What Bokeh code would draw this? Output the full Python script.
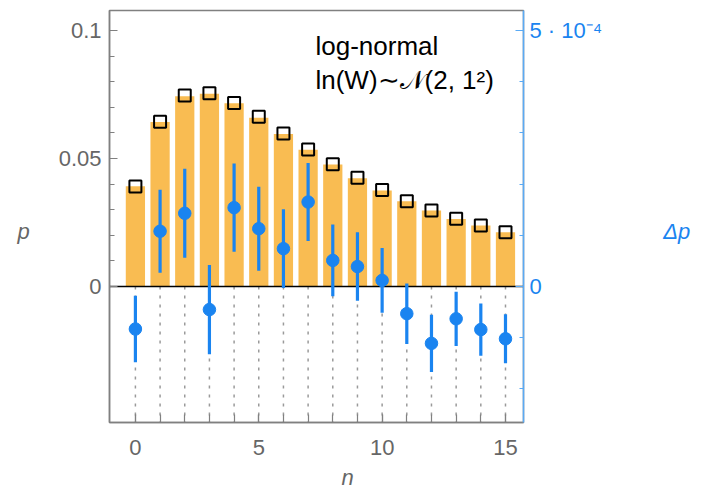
from bokeh.plotting import figure
from bokeh.models import (Range1d, LinearAxis, FixedTicker, CustomJSTickFormatter,
                          Label, Title, ColumnDataSource)
from bokeh.embed import file_html
from bokeh.resources import INLINE

# ---- data ----
n = list(range(16))
p_bar = [0.0392, 0.0643, 0.0743, 0.0753, 0.0716, 0.0659, 0.0596, 0.0534,
         0.0477, 0.0423, 0.0375, 0.0333, 0.0297, 0.0264, 0.0238, 0.0212]
p_theory = [0.0391, 0.0644, 0.0746, 0.0755, 0.0717, 0.0663, 0.0598, 0.0535,
            0.0478, 0.0425, 0.0377, 0.0333, 0.0297, 0.0265, 0.0238, 0.0212]
# delta p in units of 1e-4
dp = [-0.83, 1.08, 1.43, -0.45, 1.54, 1.13, 0.74, 1.65,
      0.51, 0.39, 0.12, -0.53, -1.11, -0.63, -0.84, -1.02]
dp_err = [0.65, 0.81, 0.87, 0.87, 0.86, 0.82, 0.77, 0.76,
          0.70, 0.67, 0.63, 0.59, 0.56, 0.53, 0.51, 0.48]

x_ticks = [0, 5, 10, 15]
p_ticks = [0, 0.05, 0.1]
p_minor = [0.01 * i for i in range(11)]
dp_ticks = [0, 5]
dp_minor = [-2, -1, 1, 2, 3, 4]
dp_labels = {0: "0", 5: "5 · 10⁻⁴"}

title1 = "log-normal"
title2 = "ln(W)∼𝒩(2, 1²)"
x_label = "n"
y_label = "p"
y2_label = "Δp"

# ---- ranges ----
x0, x1 = -1.05, 15.73
y0, y1 = -0.0531, 0.1078
scale = 50.0  # p units -> dp (1e-4) units

GRAY = "#808080"
TXT = "#666666"
BLUE = "#1a84f0"
BLUE_AX = "#5aaaf5"
ORANGE = "#f9bc52"
FONT = "Liberation Sans"

src = ColumnDataSource(dict(
    n=n, p_bar=p_bar, p_theory=p_theory, dp=dp,
    lo=[d - e for d, e in zip(dp, dp_err)],
    hi=[d + e for d, e in zip(dp, dp_err)],
    zero=[0] * len(n), bottom=[y0] * len(n),
))

p = figure(width=702, height=500, x_range=Range1d(x0, x1), y_range=Range1d(y0, y1),
           output_backend="svg", toolbar_location=None,
           min_border_left=109, min_border_right=179, min_border_top=10,
           min_border_bottom=78, background_fill_color="white")
p.extra_y_ranges = {"dp": Range1d(y0 * scale, y1 * scale)}
p.xgrid.visible = False
p.ygrid.visible = False
p.outline_line_color = GRAY
p.outline_line_width = 1.5

# glyphs
p.vbar(x="n", top="p_bar", width=0.78, source=src, fill_color=ORANGE, line_color=None)
p.segment(x0="n", y0="zero", x1="n", y1="bottom", source=src,
          line_color="#9a9a9a", line_width=1.5, line_dash="3 6")
p.hspan(y=[0], line_color="black", line_width=1.5)
p.scatter(x="n", y="p_theory", source=src, marker="square", size=12,
          fill_color=None, line_color="black", line_width=2)
p.segment(x0="n", y0="lo", x1="n", y1="hi", source=src, y_range_name="dp",
          line_color=BLUE, line_width=3.2)
p.scatter(x="n", y="dp", source=src, y_range_name="dp", marker="circle", size=12.5,
          fill_color=BLUE, line_color=BLUE)

# axes
def style(ax, color, lab_color):
    ax.axis_line_color = color
    ax.axis_line_width = 1.5
    ax.major_tick_line_color = color
    ax.minor_tick_line_color = color
    ax.major_tick_line_width = 1.2
    ax.minor_tick_line_width = 1.2
    ax.major_tick_out = 0
    ax.minor_tick_out = 0
    ax.major_label_text_font = FONT
    ax.major_label_text_font_size = "22px"
    ax.major_label_text_color = lab_color
    ax.axis_label_text_font = FONT
    ax.axis_label_text_font_size = "22px"
    ax.axis_label_text_font_style = "italic"

ly = p.yaxis[0]
ly.ticker = FixedTicker(ticks=p_ticks, minor_ticks=p_minor)
ly.formatter = CustomJSTickFormatter(
    code="return tick.toFixed(2).replace(/0+$/,'').replace(/\\.$/,'')")
style(ly, GRAY, TXT)
ly.major_tick_in = 8
ly.minor_tick_in = 5
ly.major_label_standoff = 8
ly.axis_label = "\n" + y_label
ly.axis_label_orientation = "horizontal"
ly.axis_label_text_color = TXT
ly.axis_label_standoff = 26

bx = p.xaxis[0]
bx.ticker = FixedTicker(ticks=x_ticks, minor_ticks=n)
style(bx, GRAY, TXT)
bx.major_tick_in = 8
bx.minor_tick_in = 8
bx.major_label_standoff = 17

ry = LinearAxis(y_range_name="dp", ticker=FixedTicker(ticks=dp_ticks, minor_ticks=dp_minor),
                major_label_overrides=dp_labels)
style(ry, BLUE_AX, BLUE)
ry.major_tick_in = 8
ry.minor_tick_in = 4
ry.major_label_standoff = 6
ry.axis_label = "\n" + y2_label
ry.axis_label_orientation = "horizontal"
ry.axis_label_text_color = BLUE
ry.axis_label_standoff = 58
p.add_layout(ry, "right")

xt = Title(text=x_label, align="left", offset=232, standoff=11, text_font=FONT,
           text_font_size="22px", text_font_style="italic", text_color=TXT)
p.add_layout(xt, "below")

# annotation inside the frame
px_per_x = 24.667
px_per_y = 2560.0
def dx(px):
    return (px - 135) / px_per_x
def dy(py):
    return (286 - py) / px_per_y

p.add_layout(Label(x=dx(315), y=dy(46), text=title1, text_font=FONT, text_font_size="26px",
                   text_color="black", text_align="left", text_baseline="alphabetic"))
p.add_layout(Label(x=dx(315), y=dy(80), text=title2, text_font=FONT, text_font_size="26px",
                   text_color="black", text_align="left", text_baseline="alphabetic"))

open("out.html", "w").write(file_html(p, INLINE))
